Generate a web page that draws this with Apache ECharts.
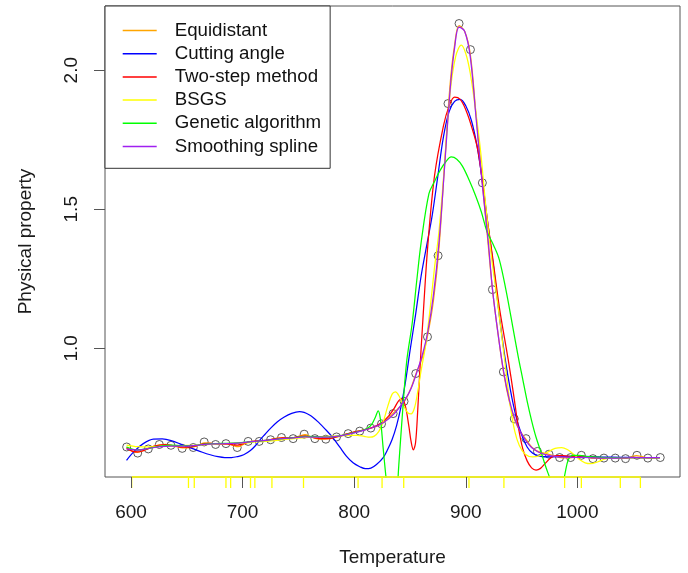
<!DOCTYPE html>
<html><head><meta charset="utf-8">
<script src="https://cdn.jsdelivr.net/npm/echarts@6/dist/echarts.min.js"></script>
<style>html,body{margin:0;padding:0;background:#fff}#c{width:688px;height:573px}</style>
</head><body><div id="c"></div>
<script>
// Observed data (circles)
const obsTemp = [596.1,606,615.5,625.4,635.8,645.9,655.8,665.6,675.8,685.1,695.2,705,714.9,725.1,734.9,745.3,755.2,764.8,774.6,784.2,794.6,805,814.9,824.5,834.9,844.7,855.2,865.7,875.2,884.1,894,904.2,914.9,923.9,933.7,943.5,954,964.2,974.6,984.1,994,1003.6,1014,1023.8,1034,1043.2,1053.4,1063.2,1074.3];
const obsProp = [0.645,0.623,0.638,0.654,0.651,0.640,0.643,0.663,0.654,0.657,0.643,0.665,0.665,0.671,0.679,0.675,0.691,0.675,0.673,0.681,0.693,0.702,0.713,0.728,0.765,0.809,0.909,1.041,1.333,1.880,2.168,2.074,1.595,1.211,0.915,0.746,0.675,0.629,0.619,0.607,0.607,0.615,0.603,0.605,0.605,0.603,0.615,0.605,0.607];

// Fitted curves [temperature, property]
const equidistant = [[596,0.645],[601,0.630],[606,0.626],[611,0.632],[616,0.640],[621,0.648],[626,0.653],[631,0.654],[636,0.651],[641,0.646],[646,0.642],[651,0.642],[656,0.645],[661,0.652],[666,0.660],[671,0.659],[676,0.655],[681,0.655],[686,0.656],[691,0.651],[696,0.646],[701,0.655],[706,0.664],[711,0.666],[716,0.666],[721,0.668],[726,0.672],[731,0.677],[736,0.679],[741,0.677],[746,0.677],[751,0.684],[756,0.689],[761,0.682],[766,0.675],[771,0.673],[776,0.674],[781,0.678],[786,0.682],[791,0.688],[796,0.694],[801,0.699],[806,0.703],[811,0.708],[816,0.714],[821,0.721],[826,0.732],[831,0.750],[836,0.770],[841,0.790],[846,0.815],[851,0.858],[856,0.915],[861,0.965],[866,1.050],[871,1.17],[876,1.36],[881,1.66],[886,1.95],[890,2.09],[894,2.16],[899,2.14],[904,2.06],[909,1.85],[915,1.59],[919,1.42],[924,1.21],[929,1.05],[934,0.91],[939,0.81],[944,0.74],[949,0.70],[954,0.672],[959,0.645],[964,0.630],[969,0.624],[975,0.618],[980,0.612],[985,0.607],[990,0.606],[995,0.607],[1000,0.611],[1004,0.614],[1009,0.609],[1014,0.604],[1019,0.604],[1024,0.605],[1029,0.605],[1034,0.605],[1039,0.604],[1043,0.604],[1048,0.609],[1053,0.614],[1058,0.610],[1063,0.606],[1068,0.606],[1074,0.607]];
const cuttingAngle = [[596,0.597],[603,0.630],[611,0.657],[620,0.673],[628,0.674],[636,0.668],[646,0.653],[656,0.638],[664,0.626],[671,0.617],[678,0.610],[684,0.607],[690,0.607],[695,0.610],[701,0.617],[707,0.632],[712,0.652],[716,0.672],[720,0.690],[725,0.712],[731,0.735],[737,0.752],[744,0.766],[751,0.772],[760,0.760],[769,0.730],[775,0.705],[781,0.678],[787,0.645],[793,0.612],[799,0.588],[805,0.574],[810,0.567],[815,0.569],[820,0.582],[826,0.607],[830,0.636],[834,0.672],[838,0.722],[842,0.790],[846,0.880],[850,0.990],[855,1.12],[860,1.26],[865,1.37],[870,1.48],[875,1.62],[880,1.76],[885,1.85],[890,1.888],[895,1.895],[900,1.872],[905,1.82],[910,1.73],[915,1.60],[920,1.44],[925,1.29],[930,1.12],[935,0.97],[940,0.85],[945,0.755],[950,0.69],[955,0.645],[960,0.622],[966,0.612],[975,0.609],[990,0.611],[1005,0.611],[1020,0.609],[1040,0.608],[1060,0.607],[1074,0.607]];
const twoStep = [[596,0.640],[601,0.630],[606,0.627],[611,0.632],[616,0.640],[621,0.648],[626,0.652],[631,0.653],[636,0.651],[641,0.647],[646,0.644],[651,0.644],[656,0.647],[661,0.652],[666,0.657],[671,0.658],[676,0.656],[681,0.655],[686,0.655],[691,0.653],[696,0.652],[701,0.657],[706,0.663],[711,0.666],[716,0.667],[721,0.669],[726,0.672],[731,0.676],[736,0.678],[741,0.678],[746,0.679],[751,0.683],[756,0.685],[761,0.681],[766,0.677],[771,0.675],[776,0.675],[781,0.678],[786,0.683],[791,0.689],[796,0.695],[801,0.700],[806,0.704],[811,0.709],[816,0.715],[821,0.724],[826,0.737],[831,0.757],[836,0.785],[840,0.812],[843,0.818],[846,0.790],[849,0.720],[851,0.665],[853,0.635],[855,0.660],[857,0.780],[859,0.930],[862,1.13],[866,1.37],[872,1.62],[880,1.80],[885,1.87],[890,1.903],[895,1.895],[900,1.858],[905,1.80],[911,1.71],[918,1.50],[924,1.33],[930,1.15],[938,0.96],[943,0.83],[947,0.72],[951,0.64],[955,0.595],[959,0.570],[963,0.562],[967,0.568],[971,0.585],[976,0.605],[981,0.614],[987,0.614],[995,0.611],[1005,0.609],[1020,0.607],[1040,0.607],[1060,0.607],[1074,0.607]];
const bsgs = [[596,0.652],[606,0.646],[616,0.645],[626,0.647],[636,0.649],[646,0.650],[656,0.651],[666,0.653],[676,0.655],[686,0.657],[696,0.659],[706,0.661],[716,0.664],[726,0.667],[736,0.671],[746,0.675],[756,0.679],[766,0.681],[776,0.683],[786,0.685],[796,0.687],[803,0.687],[809,0.683],[814,0.680],[818,0.684],[822,0.700],[826,0.735],[830,0.790],[834,0.835],[837,0.843],[840,0.830],[844,0.795],[848,0.768],[851,0.764],[854,0.785],[857,0.845],[860,0.92],[864,1.01],[868,1.14],[872,1.29],[876,1.42],[881,1.66],[886,1.92],[891,2.05],[896,2.09],[900,2.06],[904,1.99],[908,1.88],[913,1.72],[918,1.51],[923,1.33],[929,1.15],[936,0.92],[940,0.79],[944,0.70],[948,0.65],[953,0.620],[960,0.609],[967,0.615],[974,0.628],[980,0.640],[986,0.643],[991,0.636],[996,0.621],[1002,0.600],[1007,0.588],[1012,0.585],[1018,0.591],[1025,0.602],[1033,0.607],[1045,0.607],[1060,0.607],[1074,0.607]];
const genetic = [[596,0.645],[606,0.634],[616,0.640],[626,0.648],[636,0.652],[646,0.650],[656,0.650],[666,0.655],[676,0.657],[686,0.658],[696,0.660],[706,0.663],[716,0.667],[726,0.671],[736,0.675],[746,0.679],[756,0.683],[766,0.682],[776,0.680],[786,0.684],[796,0.693],[806,0.703],[812,0.712],[816,0.728],[819,0.752],[821.5,0.775],[823.5,0.745],[826,0.64],[829,0.52],[832,0.44],[835,0.42],[838,0.47],[840,0.58],[843,0.75],[847,0.95],[852,1.09],[856,1.24],[860,1.38],[867,1.556],[872,1.60],[877,1.64],[882,1.670],[887,1.688],[892,1.680],[897,1.655],[903,1.605],[909,1.547],[914,1.49],[919,1.42],[925,1.37],[930,1.32],[936,1.21],[942,1.08],[947,0.97],[951,0.89],[955,0.81],[959,0.74],[963,0.68],[968,0.62],[972,0.57],[975,0.537],[979,0.49],[983,0.47],[986,0.49],[989,0.55],[992,0.600],[996,0.615],[1002,0.615],[1010,0.610],[1025,0.607],[1045,0.607],[1074,0.607]];
const smoothing = [[596,0.638],[606,0.634],[616,0.640],[626,0.646],[636,0.648],[646,0.648],[656,0.650],[666,0.654],[676,0.656],[686,0.657],[696,0.659],[706,0.663],[716,0.667],[726,0.671],[736,0.675],[746,0.678],[756,0.681],[766,0.680],[776,0.680],[786,0.684],[796,0.692],[806,0.702],[816,0.714],[826,0.732],[836,0.765],[846,0.818],[851,0.855],[856,0.912],[861,0.975],[866,1.06],[871,1.19],[876,1.38],[881,1.65],[886,1.93],[890,2.08],[894,2.155],[899,2.14],[904,2.05],[909,1.84],[915,1.58],[920,1.39],[924,1.21],[929,1.05],[934,0.915],[939,0.815],[944,0.745],[949,0.700],[954,0.667],[959,0.643],[965,0.627],[970,0.619],[975,0.614],[985,0.609],[995,0.608],[1005,0.608],[1015,0.606],[1025,0.605],[1035,0.605],[1045,0.606],[1055,0.607],[1064,0.607],[1074,0.607]];

// BSGS knots (rug)
const rugKnots = [600.6,651.5,656.7,685.1,689.3,707.1,711,726.3,754.6,803.5,825,844.4,902.9,934.2,988.6,1003.6,1038.5,1056.5];

const xTicks = [600,700,800,900,1000];
const yTicks = [1.0,1.5,2.0];
const seriesNames = ['Equidistant','Cutting angle','Two-step method','BSGS','Genetic algorithm','Smoothing spline'];
const seriesColors = ['#FFA500','#0000FF','#FF0000','#FFFF00','#00FF00','#A020F0'];
const curves = [equidistant, cuttingAngle, twoStep, bsgs, genetic, smoothing];

const X_MIN = 576.7, X_MAX = 1092, Y_MIN = 0.537, Y_MAX = 2.231;
const FONT = 'Liberation Sans, Arial, sans-serif';

const chart = echarts.init(document.getElementById('c'));
const series = [];
series.push({
  type: 'scatter', name: 'obs', z: 2, silent: true,
  data: obsTemp.map((t, i) => [t, obsProp[i]]),
  symbol: 'circle', symbolSize: 8,
  itemStyle: { color: 'rgba(0,0,0,0)', borderColor: '#333', borderWidth: 1 }
});
curves.forEach((c, i) => {
  series.push({
    type: 'line', name: seriesNames[i], data: c, z: 3,
    showSymbol: false, symbol: 'none', smooth: 0.35,
    color: seriesColors[i],
    lineStyle: { color: seriesColors[i], width: 1.25 }
  });
});
series.push({
  type: 'line', name: 'rugline', z: 4, silent: true, clip: false,
  data: [[rugKnots[0], Y_MIN], [rugKnots[rugKnots.length - 1], Y_MIN]],
  symbol: 'none', lineStyle: { color: '#FFFF00', width: 1.3 }
});
series.push({
  type: 'custom', name: 'rug', z: 4, silent: true, clip: false,
  data: rugKnots.map(v => [v, Y_MIN]),
  renderItem: function (params, api) {
    const p = api.coord([api.value(0), api.value(1)]);
    return { type: 'line', shape: { x1: p[0], y1: p[1], x2: p[0], y2: p[1] + 11 },
      style: { stroke: '#FFFF00', lineWidth: 1.3 } };
  }
});

chart.setOption({
  animation: false,
  backgroundColor: '#fff',
  grid: { left: 105, top: 6, width: 575, height: 471, show: true, borderColor: '#555', borderWidth: 1, backgroundColor: 'transparent' },
  legend: {
    data: seriesNames, orient: 'vertical', left: 105, top: 6,
    icon: 'rect', itemWidth: 34, itemHeight: 1.5, itemGap: 4.2,
    padding: [15, 9, 12.3, 17.7],
    borderColor: '#333', borderWidth: 1, backgroundColor: '#fff',
    textStyle: { fontFamily: FONT, fontSize: 18.7, color: '#111', lineHeight: 19, padding: [0, 0, 0, 13] }
  },
  xAxis: {
    type: 'value', min: X_MIN, max: X_MAX, z: 10,
    splitLine: { show: false },
    axisLine: { show: false },
    axisTick: { show: true, customValues: xTicks, length: 11, lineStyle: { color: '#555' } },
    axisLabel: { customValues: xTicks, fontFamily: FONT, fontSize: 19, color: '#1a1a1a', margin: 26,
      formatter: v => String(v) },
    name: 'Temperature', nameLocation: 'middle', nameGap: 71,
    nameTextStyle: { fontFamily: FONT, fontSize: 19, color: '#1a1a1a' }
  },
  yAxis: {
    type: 'value', min: Y_MIN, max: Y_MAX, z: 10,
    splitLine: { show: false },
    axisLine: { show: false },
    axisTick: { show: true, customValues: yTicks, length: 11, lineStyle: { color: '#555' } },
    axisLabel: { customValues: yTicks, rotate: 90, fontFamily: FONT, fontSize: 19, color: '#1a1a1a', margin: 24,
      formatter: v => v.toFixed(1) },
    name: 'Physical property', nameLocation: 'middle', nameGap: 70, nameRotate: 90,
    nameTextStyle: { fontFamily: FONT, fontSize: 19, color: '#1a1a1a' }
  },
  series: series
});
</script>
</body></html>
